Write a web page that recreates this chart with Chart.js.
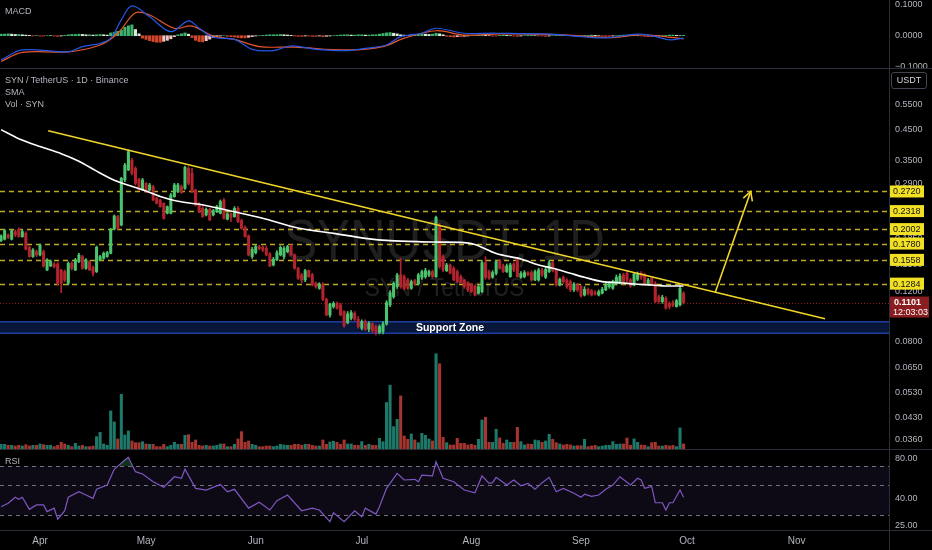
<!DOCTYPE html>
<html>
<head>
<meta charset="utf-8">
<script src="https://cdn.jsdelivr.net/npm/chart.js@4.4.1/dist/chart.umd.min.js"></script>
<style>
  html, body { margin: 0; padding: 0; background: #000; }
  #wrap { position: relative; width: 932px; height: 550px; overflow: hidden; background: #000; font-family: 'Liberation Sans', Arial, sans-serif; }
  canvas { position: absolute; left: 0; }
  .sep { position: absolute; background: #2a2e39; }
  .lbl { position: absolute; left: 5px; color: #b2b5be; font-size: 9px; white-space: nowrap; line-height: 11px; }
  #usdt { position: absolute; left: 891px; top: 72px; width: 36px; height: 17px; border: 1px solid #434651; border-radius: 3px; color: #d1d4dc; font-size: 9px; line-height: 15px; text-align: center; box-sizing: border-box; }
</style>
</head>
<body>
<div id="wrap">
  <canvas id="macdChart" width="932" height="68" style="top:0"></canvas>
  <canvas id="mainChart" width="932" height="381" style="top:68px"></canvas>
  <canvas id="rsiChart" width="932" height="100" style="top:450px"></canvas>
  <div class="sep" style="left:0;top:68px;width:932px;height:1px"></div>
  <div class="sep" style="left:0;top:449px;width:932px;height:1px"></div>
  <div class="sep" style="left:0;top:530px;width:932px;height:1px"></div>
  <div class="sep" style="left:889px;top:0;width:1px;height:550px"></div>
  <div class="lbl" style="top:6px">MACD</div>
  <div class="lbl" style="top:75px">SYN / TetherUS · 1D · Binance</div>
  <div class="lbl" style="top:87px">SMA</div>
  <div class="lbl" style="top:99px">Vol · SYN</div>
  <div class="lbl" style="top:456px">RSI</div>
  <div id="usdt">USDT</div>
</div>
<script>
// day 0 = 1 Apr, first candle = 21 Mar (day -11), one candle per day
const firstDay = -11;

const opens = [
  0.1822, 0.1843, 0.1909, 0.1843, 0.1961, 0.1999, 0.1883, 0.1935, 0.1726, 0.1600,
  0.1666, 0.1622, 0.1666, 0.1435, 0.1483, 0.1507, 0.1507, 0.1435, 0.1416, 0.1287,
  0.1515, 0.1435, 0.1536, 0.1600, 0.1455, 0.1536, 0.1467, 0.1416, 0.1557, 0.1578,
  0.1600, 0.1644, 0.1999, 0.2216, 0.2071, 0.2987, 0.3240, 0.3515, 0.3284, 0.3003,
  0.2753, 0.2907, 0.2753, 0.2829, 0.2572, 0.2538, 0.2470, 0.2277, 0.2277, 0.2608,
  0.2716, 0.2829, 0.2791, 0.3284, 0.3153, 0.2753, 0.2457, 0.2371, 0.2246, 0.2352,
  0.2246, 0.2308, 0.2277, 0.2538, 0.2169, 0.2265, 0.2216, 0.2371, 0.2145, 0.2032,
  0.1893, 0.1600, 0.1653, 0.1736, 0.1726, 0.1712, 0.1635, 0.1495, 0.1557, 0.1622,
  0.1600, 0.1666, 0.1745, 0.1622, 0.1455, 0.1378, 0.1323, 0.1427, 0.1378, 0.1287,
  0.1236, 0.1280, 0.1130, 0.0995, 0.1065, 0.1094, 0.1080, 0.1023, 0.0935, 0.0969,
  0.1009, 0.0961, 0.0893, 0.0943, 0.0886, 0.0925, 0.0905, 0.0862, 0.0869, 0.0925,
  0.1080, 0.1155, 0.1253, 0.1378, 0.1359, 0.1323, 0.1236, 0.1316, 0.1280, 0.1352,
  0.1359, 0.1378, 0.1416, 0.1359, 0.2071, 0.1600, 0.1427, 0.1495, 0.1455, 0.1416,
  0.1359, 0.1323, 0.1294, 0.1280, 0.1260, 0.1187, 0.1203, 0.1523, 0.1416, 0.1352,
  0.1397, 0.1549, 0.1483, 0.1416, 0.1359, 0.1507, 0.1566, 0.1352, 0.1359, 0.1405,
  0.1405, 0.1323, 0.1323, 0.1435, 0.1352, 0.1416, 0.1523, 0.1435, 0.1270, 0.1352,
  0.1323, 0.1305, 0.1220, 0.1270, 0.1253, 0.1171, 0.1226, 0.1213, 0.1193, 0.1171,
  0.1187, 0.1220, 0.1253, 0.1236, 0.1280, 0.1287, 0.1378, 0.1397, 0.1323, 0.1270,
  0.1330, 0.1397, 0.1378, 0.1280, 0.1341, 0.1287, 0.1155, 0.1109, 0.1140, 0.1094,
  0.1100, 0.1065, 0.1080, 0.1187
];
const highs = [
  0.1909, 0.1999, 0.1925, 0.1999, 0.1988, 0.2021, 0.1988, 0.1956, 0.1745, 0.1707,
  0.1689, 0.1773, 0.1689, 0.1574, 0.1557, 0.1523, 0.1523, 0.1443, 0.1435, 0.1532,
  0.1532, 0.1578, 0.1644, 0.1618, 0.1574, 0.1549, 0.1483, 0.1745, 0.1618, 0.1662,
  0.1671, 0.2015, 0.2246, 0.2240, 0.3052, 0.3421, 0.3813, 0.3563, 0.3329, 0.3027,
  0.3027, 0.2923, 0.2907, 0.2860, 0.2593, 0.2552, 0.2484, 0.2417, 0.2680, 0.2907,
  0.2907, 0.2868, 0.3347, 0.3329, 0.3284, 0.2768, 0.2484, 0.2404, 0.2378, 0.2371,
  0.2352, 0.2430, 0.2538, 0.2565, 0.2290, 0.2290, 0.2404, 0.2404, 0.2169, 0.2054,
  0.1909, 0.1726, 0.1759, 0.1754, 0.1745, 0.1745, 0.1653, 0.1591, 0.1680, 0.1745,
  0.1736, 0.1754, 0.1764, 0.1635, 0.1467, 0.1397, 0.1443, 0.1435, 0.1397, 0.1301,
  0.1294, 0.1294, 0.1143, 0.1097, 0.1109, 0.1106, 0.1094, 0.1029, 0.1023, 0.1031,
  0.1023, 0.0982, 0.0956, 0.0956, 0.0943, 0.0935, 0.0918, 0.0918, 0.0943, 0.1118,
  0.1213, 0.1305, 0.1397, 0.1578, 0.1378, 0.1341, 0.1323, 0.1330, 0.1397, 0.1435,
  0.1455, 0.1435, 0.1435, 0.2228, 0.2099, 0.1622, 0.1515, 0.1507, 0.1475, 0.1435,
  0.1378, 0.1330, 0.1305, 0.1287, 0.1270, 0.1267, 0.1549, 0.1600, 0.1435, 0.1427,
  0.1557, 0.1566, 0.1507, 0.1507, 0.1515, 0.1523, 0.1591, 0.1416, 0.1427, 0.1416,
  0.1427, 0.1435, 0.1455, 0.1455, 0.1467, 0.1549, 0.1540, 0.1451, 0.1345, 0.1366,
  0.1338, 0.1323, 0.1294, 0.1287, 0.1267, 0.1253, 0.1240, 0.1226, 0.1213, 0.1220,
  0.1246, 0.1294, 0.1305, 0.1323, 0.1378, 0.1390, 0.1397, 0.1427, 0.1341, 0.1405,
  0.1412, 0.1416, 0.1397, 0.1341, 0.1359, 0.1305, 0.1171, 0.1168, 0.1155, 0.1109,
  0.1118, 0.1130, 0.1260, 0.1203
];
const lows = [
  0.1808, 0.1832, 0.1853, 0.1832, 0.1883, 0.1873, 0.1873, 0.1689, 0.1591, 0.1591,
  0.1600, 0.1609, 0.1467, 0.1427, 0.1475, 0.1459, 0.1270, 0.1193, 0.1305, 0.1270,
  0.1435, 0.1427, 0.1523, 0.1443, 0.1443, 0.1427, 0.1366, 0.1405, 0.1549, 0.1566,
  0.1591, 0.1635, 0.1988, 0.1999, 0.2054, 0.2946, 0.3222, 0.3111, 0.2868, 0.2738,
  0.2738, 0.2694, 0.2738, 0.2524, 0.2457, 0.2391, 0.2169, 0.2265, 0.2265, 0.2594,
  0.2694, 0.2680, 0.2768, 0.2868, 0.2694, 0.2417, 0.2290, 0.2204, 0.2228, 0.2145,
  0.2228, 0.2290, 0.2265, 0.2169, 0.2157, 0.2127, 0.2204, 0.2110, 0.1999, 0.1873,
  0.1609, 0.1578, 0.1635, 0.1689, 0.1666, 0.1609, 0.1475, 0.1483, 0.1549, 0.1609,
  0.1566, 0.1653, 0.1609, 0.1443, 0.1330, 0.1294, 0.1305, 0.1352, 0.1260, 0.1236,
  0.1226, 0.1118, 0.0988, 0.0977, 0.1051, 0.1043, 0.0988, 0.0900, 0.0925, 0.0956,
  0.0951, 0.0893, 0.0881, 0.0876, 0.0869, 0.0862, 0.0846, 0.0853, 0.0853, 0.0915,
  0.1065, 0.1140, 0.1236, 0.1236, 0.1220, 0.1226, 0.1226, 0.1267, 0.1270, 0.1330,
  0.1341, 0.1359, 0.1345, 0.1352, 0.1455, 0.1416, 0.1416, 0.1390, 0.1316, 0.1294,
  0.1287, 0.1236, 0.1203, 0.1193, 0.1161, 0.1180, 0.1193, 0.1330, 0.1330, 0.1341,
  0.1378, 0.1443, 0.1405, 0.1405, 0.1352, 0.1416, 0.1352, 0.1341, 0.1345, 0.1366,
  0.1309, 0.1316, 0.1309, 0.1359, 0.1338, 0.1405, 0.1412, 0.1260, 0.1260, 0.1287,
  0.1236, 0.1203, 0.1203, 0.1203, 0.1149, 0.1161, 0.1171, 0.1161, 0.1168, 0.1161,
  0.1180, 0.1213, 0.1236, 0.1226, 0.1270, 0.1280, 0.1280, 0.1294, 0.1246, 0.1260,
  0.1316, 0.1330, 0.1267, 0.1270, 0.1270, 0.1100, 0.1094, 0.1094, 0.1043, 0.1043,
  0.1065, 0.1060, 0.1071, 0.1088
];
const closes = [
  0.1893, 0.1977, 0.1873, 0.1977, 0.1909, 0.1883, 0.1961, 0.1698, 0.1600, 0.1689,
  0.1622, 0.1759, 0.1483, 0.1557, 0.1536, 0.1475, 0.1287, 0.1287, 0.1323, 0.1515,
  0.1455, 0.1557, 0.1622, 0.1455, 0.1557, 0.1435, 0.1397, 0.1726, 0.1600, 0.1644,
  0.1653, 0.1999, 0.2228, 0.2015, 0.3027, 0.3374, 0.3762, 0.3153, 0.2907, 0.2753,
  0.2987, 0.2716, 0.2868, 0.2538, 0.2470, 0.2404, 0.2186, 0.2404, 0.2643, 0.2868,
  0.2868, 0.2694, 0.3311, 0.2907, 0.2716, 0.2437, 0.2308, 0.2216, 0.2352, 0.2157,
  0.2327, 0.2404, 0.2504, 0.2186, 0.2265, 0.2204, 0.2371, 0.2127, 0.2015, 0.1883,
  0.1622, 0.1698, 0.1736, 0.1707, 0.1689, 0.1622, 0.1483, 0.1566, 0.1653, 0.1726,
  0.1712, 0.1736, 0.1622, 0.1455, 0.1341, 0.1323, 0.1427, 0.1359, 0.1270, 0.1253,
  0.1280, 0.1130, 0.0995, 0.1088, 0.1094, 0.1051, 0.0995, 0.0910, 0.1003, 0.1014,
  0.0961, 0.0905, 0.0943, 0.0886, 0.0930, 0.0876, 0.0862, 0.0905, 0.0925, 0.1100,
  0.1193, 0.1287, 0.1378, 0.1253, 0.1236, 0.1236, 0.1305, 0.1280, 0.1378, 0.1416,
  0.1427, 0.1416, 0.1359, 0.2204, 0.1475, 0.1435, 0.1495, 0.1397, 0.1323, 0.1305,
  0.1294, 0.1253, 0.1220, 0.1203, 0.1171, 0.1253, 0.1523, 0.1352, 0.1341, 0.1405,
  0.1536, 0.1455, 0.1416, 0.1483, 0.1495, 0.1435, 0.1359, 0.1397, 0.1405, 0.1378,
  0.1323, 0.1416, 0.1435, 0.1378, 0.1443, 0.1523, 0.1427, 0.1270, 0.1330, 0.1305,
  0.1253, 0.1220, 0.1280, 0.1220, 0.1161, 0.1226, 0.1187, 0.1171, 0.1180, 0.1203,
  0.1226, 0.1280, 0.1287, 0.1305, 0.1352, 0.1366, 0.1294, 0.1323, 0.1260, 0.1390,
  0.1390, 0.1352, 0.1280, 0.1323, 0.1287, 0.1109, 0.1109, 0.1149, 0.1051, 0.1065,
  0.1077, 0.1118, 0.1236, 0.1101
];
// volume, millions of SYN
const volumes = [
  1.4, 1.4, 1.1, 1.1, 0.9, 1.1, 0.9, 1.3, 0.9, 1.1,
  1.1, 1.5, 1.3, 1.1, 1.1, 0.7, 1.1, 2.0, 1.5, 1.1,
  0.7, 1.7, 0.9, 1.1, 0.7, 0.7, 0.9, 3.7, 5.0, 1.5,
  1.1, 11.4, 8.1, 3.0, 16.4, 4.2, 5.4, 2.4, 1.9, 1.9,
  2.2, 1.5, 1.4, 1.4, 0.7, 0.7, 1.4, 0.7, 1.1, 2.0,
  1.4, 1.4, 4.1, 4.3, 2.0, 2.7, 1.1, 0.9, 1.1, 0.9,
  0.9, 1.1, 1.5, 1.5, 0.7, 0.7, 1.4, 3.0, 5.2, 2.0,
  2.4, 1.4, 1.1, 0.7, 0.7, 0.9, 0.9, 0.7, 0.9, 1.4,
  1.2, 1.1, 1.1, 1.4, 1.4, 1.1, 1.4, 1.4, 1.1, 0.9,
  0.9, 2.7, 1.4, 2.1, 2.3, 2.0, 1.4, 2.7, 1.5, 1.5,
  1.1, 1.1, 2.2, 1.1, 1.4, 1.1, 1.1, 3.2, 2.2, 13.9,
  19.1, 6.7, 8.9, 15.9, 3.9, 2.9, 4.5, 2.7, 1.9, 4.7,
  4.1, 3.0, 2.4, 28.5, 25.5, 3.5, 1.9, 1.2, 1.2, 3.2,
  1.7, 1.7, 1.2, 1.4, 1.1, 2.9, 8.7, 9.5, 2.0, 2.0,
  5.9, 3.3, 1.7, 2.7, 2.0, 2.0, 6.5, 2.2, 1.2, 1.5,
  1.4, 2.7, 2.5, 2.0, 2.4, 4.4, 2.9, 1.9, 1.5, 1.2,
  1.4, 1.2, 0.9, 1.0, 1.0, 2.9, 0.7, 0.9, 1.1, 0.7,
  0.9, 1.1, 1.1, 2.2, 1.4, 1.5, 1.5, 3.3, 1.1, 3.0,
  2.0, 1.2, 1.1, 0.7, 1.9, 2.0, 0.9, 0.9, 1.1, 0.9,
  1.1, 0.7, 6.3, 1.5
];
const macdHist = [
  0.005, 0.005, 0.006, 0.005, 0.004, 0.004, 0.003, 0.002, 0.001, -0.001,
  0, -0.001, -0.001, 0, 0.001, -0.001, -0.002, -0.001, 0.001, 0.003,
  0.004, 0.004, 0.005, 0.004, 0.003, 0.003, 0.002, 0.003, 0.004, 0.003,
  0.002, 0.009, 0.011, 0.014, 0.018, 0.027, 0.032, 0.035, 0.020, 0.006,
  -0.008, -0.012, -0.016, -0.019, -0.021, -0.021, -0.018, -0.015, -0.010, -0.003,
  0.003, 0.006, 0.009, 0.005, -0.006, -0.015, -0.019, -0.020, -0.016, -0.011,
  -0.006, -0.003, -0.001, 0, -0.002, -0.003, -0.004, -0.006, -0.007, -0.007,
  -0.005, -0.003, -0.001, 0, 0.001, 0.002, 0.003, 0.003, 0.003, 0.004,
  0.003, 0.002, 0.001, -0.001, -0.002, -0.002, -0.001, -0.001, -0.002, -0.002,
  -0.001, -0.003, -0.002, -0.001, 0, 0.001, 0.002, 0.003, 0.003, 0.002,
  0.002, 0.003, 0.003, 0.002, 0.002, 0.003, 0.003, 0.005, 0.007, 0.009,
  0.010, 0.008, 0.006, 0.003, 0.002, 0.001, 0.002, 0.004, 0.005, 0.006,
  0.005, 0.004, 0.005, 0.008, 0.006, 0.003, -0.002, -0.003, -0.004, -0.003,
  -0.003, -0.002, -0.001, 0, 0.001, 0.002, 0.002, 0.001, 0, -0.001,
  -0.001, 0.001, 0.002, 0.001, 0, -0.001, -0.002, -0.001, 0, 0.001,
  0.001, 0, -0.001, -0.001, -0.002, -0.001, 0, 0.001, 0.002, 0.002,
  0.001, 0, -0.001, -0.001, 0, 0.001, 0.001, 0.002, 0.001, 0,
  -0.001, -0.002, -0.002, -0.001, 0, 0.001, 0.002, 0.002, 0.001, 0.001,
  0, -0.001, -0.002, -0.003, -0.003, -0.002, -0.001, 0, 0.001, 0.002,
  0.002, 0.001, 0, 0.001
];
const macdDays = [-11, -5, 8, 12, 17, 20, 23, 26, 31, 37, 42, 45, 49, 55, 60, 66, 71, 78, 87, 92,
  98, 102, 108, 112, 120, 129, 144, 154, 160, 169, 173, 178, 182];
const macdLine = [-0.078, -0.046, -0.052, -0.035, -0.025, -0.008, 0.051, 0.096, 0.061, 0.013,
  0.048, 0.024, -0.005, -0.012, -0.044, -0.048, -0.033, -0.044, -0.048, -0.041,
  -0.030, -0.003, 0.008, 0.024, 0.008, 0.008, 0.005, -0.004, -0.007, 0.005, 0.000, -0.013, -0.008];
const signalDays = [-11, -5, 8, 17, 22, 27, 31, 38, 43, 49, 55, 62, 72, 87, 97, 103, 112, 120,
  130, 145, 155, 162, 170, 176, 182];
const signalLine = [-0.083, -0.054, -0.052, -0.030, 0.008, 0.074, 0.067, 0.024, 0.031, -0.001,
  -0.012, -0.035, -0.037, -0.046, -0.035, -0.008, 0.016, 0.002, 0.006, 0.004, -0.002, -0.006,
  0.003, -0.002, -0.010];
const smaDays = [-11, -6, 0, 6, 11, 16, 21, 25, 29, 34, 39, 45, 54, 64, 73, 83, 92, 99, 111, 122,
  129, 136, 141, 145, 150, 154, 159, 164, 168, 173, 177, 182];
const smaValues = [0.450, 0.418, 0.392, 0.370, 0.348, 0.321, 0.298, 0.286, 0.276, 0.261,
  0.251, 0.245, 0.232, 0.217, 0.202, 0.1934, 0.1857, 0.1822, 0.1802, 0.178,
  0.164, 0.157, 0.1495, 0.1455, 0.1397, 0.1352, 0.1305, 0.1294, 0.1280, 0.1270, 0.1260, 0.1260];
const rsiDays = [-11, -9, -7, -6, -5, -3, -1, 1, 2, 4, 5, 7, 8, 11, 13, 15, 16, 19, 21, 24,
  25, 27, 29, 32, 35, 38, 40, 41, 44, 47, 51, 53, 55, 59, 62, 65, 67, 70, 74, 77,
  79, 82, 83, 86, 89, 91, 92, 95, 96, 98, 101, 103, 106, 107, 108, 111, 112, 114, 117, 120,
  123, 125, 127, 128, 129, 132, 134, 136, 138, 140, 142, 144, 146, 148, 151, 153, 154, 156, 158, 160,
  162, 164, 167, 169, 170, 171, 173, 174, 176, 177, 178, 179, 181, 182];
const rsiValues = [34.6, 36.8, 40.8, 39.4, 40.8, 33.1, 35.7, 35.7, 31.8, 33.8, 27.9, 32.3, 40.8, 44.9, 42.4, 40.0, 46.8, 50.4, 66.2, 77.7,
  81.4, 63.5, 61.0, 53.4, 48.5, 58.2, 56.6, 66.2, 47.6, 46.2, 51.0, 44.9, 46.8, 33.8, 37.4, 32.7, 38.4, 42.4, 32.3, 33.8,
  32.7, 26.7, 31.2, 26.7, 32.3, 29.1, 33.8, 30.5, 34.6, 47.6, 61.7, 55.0, 55.6, 53.4, 59.9, 59.0, 75.5, 56.6, 53.4, 46.2,
  44.1, 59.0, 51.9, 52.5, 57.6, 50.4, 55.0, 49.8, 51.9, 46.8, 52.5, 57.6, 44.9, 47.6, 43.7, 40.8, 43.0, 41.4, 42.4, 46.8,
  50.4, 58.2, 50.4, 56.6, 55.0, 47.6, 49.2, 37.1, 37.1, 32.7, 37.1, 37.1, 46.2, 40.8];

const levels = [0.2720, 0.2318, 0.2002, 0.1780, 0.1558, 0.1284];
const lastPrice = 0.1101;
const countdown = '12:03:03';
const supportZone = [0.0857, 0.0942];
const trendLine = [[2.3, 0.446], [222, 0.0965]];
const arrowPath = [[191, 0.120], [201, 0.272]];
const monthDays = [0, 30, 61, 91, 122, 153, 183, 214];
const monthLabels = ['Apr', 'May', 'Jun', 'Jul', 'Aug', 'Sep', 'Oct', 'Nov'];
const priceTicks = [0.55, 0.45, 0.35, 0.29, 0.185, 0.15, 0.12, 0.10, 0.08, 0.065, 0.053, 0.043, 0.036];
const macdTicks = [0.1, 0, -0.1];
const rsiTicks = [80, 40, 25];
const rsiLevels = [70, 50, 30];

// view ranges (what the panels show)
const xMin = -11.31, xMax = 240.1;
const priceMin = 0.0334, priceMax = 0.7434;
const volMax = 114;
const macdMin = -0.1042, macdMax = 0.1152;
const rsiMin = 23.15, rsiMax = 92.4;

const upColor = '#4bc46d', downColor = '#b3242e';
const volUp = '#1d7a6b', volDown = '#a4352f';
const yellow = '#f0d528';
const axisFont = "9px 'Liberation Sans', Arial, sans-serif";

Chart.defaults.font.family = "'Liberation Sans', Arial, sans-serif";
Chart.defaults.color = '#b2b5be';
Chart.defaults.animation = false;
Chart.defaults.plugins.legend.display = false;
Chart.defaults.plugins.tooltip.enabled = false;

const days = closes.map((_, i) => firstDay + i);
const isUp = closes.map((c, i) => c >= opens[i]);

function rightAxis(type, min, max, ticks, fmt) {
    return {
        type: type, position: 'right', min: min, max: max,
        grid: { display: false, drawTicks: false },
        border: { display: false },
        ticks: { autoSkip: false, padding: 6, color: '#b2b5be', font: { size: 9 }, callback: fmt },
        afterBuildTicks: s => { s.ticks = ticks.map(v => ({ value: v })); },
        afterFit: s => { s.width = 43; s.paddingTop = 0; s.paddingBottom = 0; }
    };
}
const hiddenX = { type: 'linear', min: xMin, max: xMax, display: false, offset: false };
const barOpts = { grouped: false, barPercentage: 1, categoryPercentage: 1, borderWidth: 0 };

// MACD panel
const histColors = macdHist.map((v, i) => {
    const prev = i > 0 ? macdHist[i - 1] : v;
    if (v >= 0) return v >= prev ? '#3fb36e' : '#d9ecd9';
    return v > prev ? '#f2c6c6' : '#d2472c';
});
new Chart(document.getElementById('macdChart'), {
    type: 'bar',
    data: {
        datasets: [
            Object.assign({ data: days.map((d, i) => ({ x: d, y: macdHist[i] })), backgroundColor: histColors, maxBarThickness: 2.4, order: 3 }, barOpts),
            { type: 'line', data: macdDays.map((d, i) => ({ x: d, y: macdLine[i] })), borderColor: '#2457e6', borderWidth: 1.2, pointRadius: 0, tension: 0.35, order: 1 },
            { type: 'line', data: signalDays.map((d, i) => ({ x: d, y: signalLine[i] })), borderColor: '#e8562a', borderWidth: 1.2, pointRadius: 0, tension: 0.35, order: 2 }
        ]
    },
    options: {
        responsive: false,
        layout: { padding: 0 },
        scales: {
            x: hiddenX,
            y: rightAxis('linear', macdMin, macdMax, macdTicks, v => (v < 0 ? '\u2212' : '') + Math.abs(v).toFixed(4))
        }
    }
});

// price panel
const mainDecor = {
    id: 'mainDecor',
    beforeDatasetsDraw(chart) {
        const { ctx, chartArea: a, scales: { y } } = chart;
        const cx = (a.left + a.right) / 2;
        ctx.save();
        // watermark
        ctx.fillStyle = 'rgba(255,255,255,0.12)';
        ctx.textAlign = 'center';
        ctx.textBaseline = 'alphabetic';
        ctx.save(); ctx.translate(cx, a.top + 192); ctx.scale(0.85, 1);
        ctx.font = "58px 'Liberation Sans', Arial, sans-serif";
        ctx.fillText('SYNUSDT, 1D', 0, 0); ctx.restore();
        ctx.save(); ctx.translate(cx, a.top + 228); ctx.scale(0.87, 1);
        ctx.font = "26px 'Liberation Sans', Arial, sans-serif";
        ctx.fillText('SYN / TetherUS', 0, 0); ctx.restore();
        // support zone
        const zt = y.getPixelForValue(supportZone[1]), zb = y.getPixelForValue(supportZone[0]);
        ctx.fillStyle = '#08163a';
        ctx.fillRect(a.left, zt, a.right - a.left, zb - zt);
        ctx.strokeStyle = '#1f3fa0';
        ctx.lineWidth = 1.5;
        ctx.beginPath();
        ctx.moveTo(a.left, zt); ctx.lineTo(a.right, zt);
        ctx.moveTo(a.left, zb); ctx.lineTo(a.right, zb);
        ctx.stroke();
        ctx.fillStyle = '#ffffff';
        ctx.font = "bold 10.5px 'Liberation Sans', Arial, sans-serif";
        ctx.textBaseline = 'middle';
        ctx.fillText('Support Zone', 450, (zt + zb) / 2 + 0.5);
        // dashed levels
        ctx.strokeStyle = 'rgba(222,200,40,0.85)';
        ctx.lineWidth = 1.5;
        ctx.setLineDash([5, 4]);
        levels.forEach(l => {
            const py = Math.round(y.getPixelForValue(l)) + 0.5;
            ctx.beginPath(); ctx.moveTo(a.left, py); ctx.lineTo(a.right, py); ctx.stroke();
        });
        // last price line
        ctx.strokeStyle = 'rgba(160,30,30,0.9)';
        ctx.lineWidth = 1;
        ctx.setLineDash([1, 2]);
        const lp = Math.round(y.getPixelForValue(lastPrice)) + 0.5;
        ctx.beginPath(); ctx.moveTo(a.left, lp); ctx.lineTo(a.right, lp); ctx.stroke();
        ctx.restore();
    },
    afterDatasetsDraw(chart) {
        const { ctx, scales: { x, y } } = chart;
        const x0 = x.getPixelForValue(arrowPath[0][0]), y0 = y.getPixelForValue(arrowPath[0][1]);
        const x1 = x.getPixelForValue(arrowPath[1][0]), y1 = y.getPixelForValue(arrowPath[1][1]);
        const ang = Math.atan2(y1 - y0, x1 - x0);
        ctx.save();
        ctx.strokeStyle = yellow;
        ctx.lineWidth = 1.6;
        ctx.beginPath();
        ctx.moveTo(x1 - 10 * Math.cos(ang - 0.5), y1 - 10 * Math.sin(ang - 0.5));
        ctx.lineTo(x1, y1);
        ctx.lineTo(x1 - 10 * Math.cos(ang + 0.5), y1 - 10 * Math.sin(ang + 0.5));
        ctx.stroke();
        ctx.restore();
    },
    afterDraw(chart) {
        const { ctx, chartArea: a, scales: { y } } = chart;
        ctx.save();
        ctx.font = axisFont;
        ctx.textBaseline = 'middle';
        ctx.textAlign = 'left';
        levels.forEach(l => {
            const py = y.getPixelForValue(l);
            ctx.fillStyle = '#f2e024';
            ctx.fillRect(a.right + 1, py - 6, 34, 12);
            ctx.fillStyle = '#111';
            ctx.fillText(l.toFixed(4), a.right + 4, py + 0.5);
        });
        const lp = y.getPixelForValue(lastPrice);
        ctx.fillStyle = '#8a1d1f';
        ctx.fillRect(a.right + 1, lp - 6, 39, 21);
        ctx.fillStyle = '#ffffff';
        ctx.font = "bold 9px 'Liberation Sans', Arial, sans-serif";
        ctx.fillText(lastPrice.toFixed(4), a.right + 5, lp);
        ctx.font = axisFont;
        ctx.fillText(countdown, a.right + 4, lp + 10);
        ctx.restore();
    }
};

new Chart(document.getElementById('mainChart'), {
    type: 'bar',
    data: {
        datasets: [
            Object.assign({ data: days.map((d, i) => ({ x: d, y: volumes[i] })), backgroundColor: isUp.map(u => u ? volUp : volDown), maxBarThickness: 2.4, yAxisID: 'yv', order: 6 }, barOpts),
            Object.assign({ data: days.map((d, i) => ({ x: d, y: [lows[i], highs[i]] })), backgroundColor: isUp.map(u => u ? upColor : downColor), maxBarThickness: 1, yAxisID: 'y', order: 5 }, barOpts),
            Object.assign({ data: days.map((d, i) => ({ x: d, y: [opens[i], closes[i]] })), backgroundColor: isUp.map(u => u ? upColor : downColor), maxBarThickness: 2.4, minBarLength: 1, yAxisID: 'y', order: 4 }, barOpts),
            { type: 'line', data: smaDays.map((d, i) => ({ x: d, y: smaValues[i] })), borderColor: '#ffffff', borderWidth: 1.6, pointRadius: 0, tension: 0.3, yAxisID: 'y', order: 3 },
            { type: 'line', data: trendLine.map(p => ({ x: p[0], y: p[1] })), borderColor: yellow, borderWidth: 1.6, pointRadius: 0, yAxisID: 'y', order: 2 },
            { type: 'line', data: arrowPath.map(p => ({ x: p[0], y: p[1] })), borderColor: yellow, borderWidth: 1.6, pointRadius: 0, yAxisID: 'y', order: 1 }
        ]
    },
    options: {
        responsive: false,
        layout: { padding: 0 },
        scales: {
            x: hiddenX,
            y: rightAxis('logarithmic', priceMin, priceMax, priceTicks, v => Number(v).toFixed(4)),
            yv: { type: 'linear', min: 0, max: volMax, display: false }
        }
    },
    plugins: [mainDecor]
});

// RSI panel
const rsiDecor = {
    id: 'rsiDecor',
    beforeDatasetsDraw(chart) {
        const { ctx, chartArea: a, scales: { y } } = chart;
        const top = y.getPixelForValue(rsiLevels[0]), bot = y.getPixelForValue(rsiLevels[2]);
        ctx.save();
        ctx.fillStyle = 'rgba(126,87,194,0.11)';
        ctx.fillRect(a.left, top, a.right - a.left, bot - top);
        ctx.strokeStyle = '#6f7280';
        ctx.lineWidth = 1;
        ctx.setLineDash([4, 4]);
        rsiLevels.forEach(l => {
            const py = Math.round(y.getPixelForValue(l)) + 0.5;
            ctx.beginPath(); ctx.moveTo(a.left, py); ctx.lineTo(a.right, py); ctx.stroke();
        });
        ctx.restore();
    }
};
new Chart(document.getElementById('rsiChart'), {
    type: 'line',
    data: {
        datasets: [{
            data: rsiDays.map((d, i) => ({ x: d, y: rsiValues[i] })),
            borderColor: '#7e57c2', borderWidth: 1.2, pointRadius: 0, tension: 0,
            fill: { target: { value: 70 }, above: 'rgba(40,150,80,0.35)', below: 'rgba(0,0,0,0)' }
        }]
    },
    options: {
        responsive: false,
        layout: { padding: 0 },
        scales: {
            x: {
                type: 'linear', min: xMin, max: xMax, offset: false, position: 'bottom',
                grid: { display: false, drawTicks: false },
                border: { display: false },
                ticks: {
                    autoSkip: false, maxRotation: 0, padding: 5, color: '#b2b5be', font: { size: 10 },
                    callback: v => { const k = monthDays.indexOf(v); return k >= 0 ? monthLabels[k] : ''; }
                },
                afterBuildTicks: s => { s.ticks = monthDays.map(v => ({ value: v })); },
                afterFit: s => { s.height = 20; s.paddingLeft = 0; s.paddingRight = 0; }
            },
            y: rightAxis('logarithmic', rsiMin, rsiMax, rsiTicks, v => Number(v).toFixed(2))
        }
    },
    plugins: [rsiDecor]
});
</script>
</body>
</html>
